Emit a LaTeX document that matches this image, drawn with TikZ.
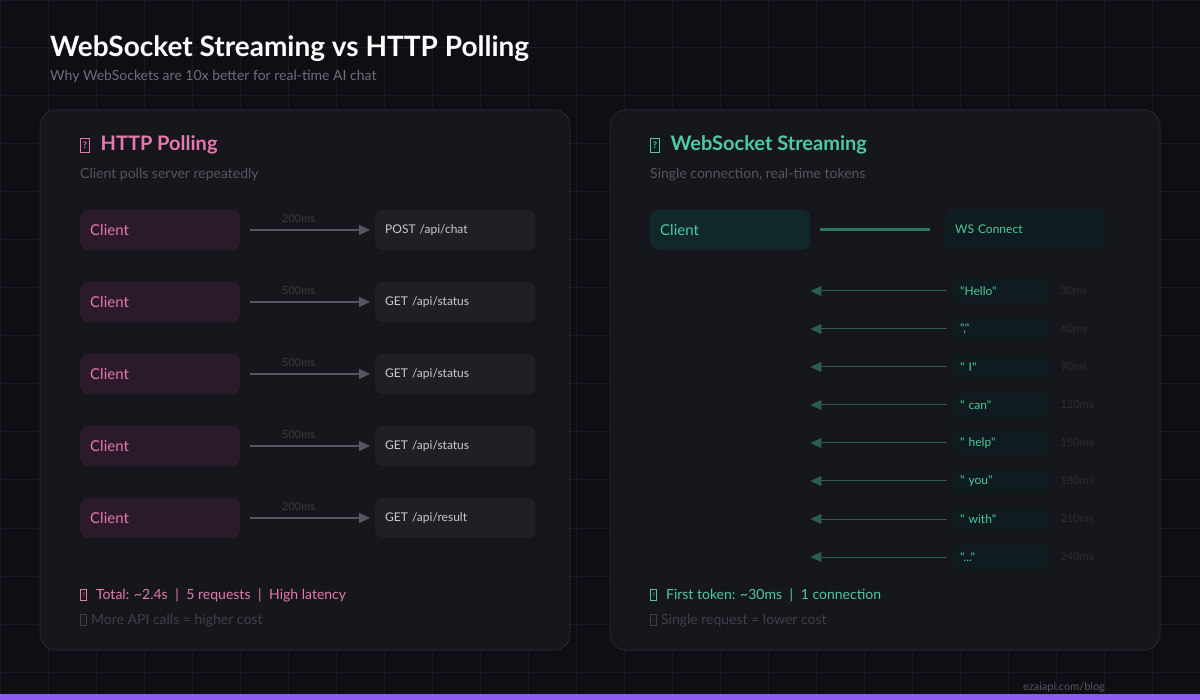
\documentclass[tikz,border=0pt]{standalone}
\usepackage{fontspec}
\setmainfont{Lato}
\newfontfamily\tokfont{Lato}
\usetikzlibrary{positioning}
\usetikzlibrary{arrows.meta}

\definecolor{bgdark}{HTML}{0E0E15}
\definecolor{gridline}{HTML}{1A1A24}
\definecolor{panelbg}{HTML}{16171C}
\definecolor{panelline}{HTML}{24252D}
\definecolor{subgray}{HTML}{6E6E78}
\definecolor{pinkc}{HTML}{E679AC}
\definecolor{pinkbox}{HTML}{2A1A2A}
\definecolor{servbox}{HTML}{1F1F26}
\definecolor{servtext}{HTML}{C9C9D1}
\definecolor{arrowgray}{HTML}{56565E}
\definecolor{msgray}{HTML}{393A42}
\definecolor{greenc}{HTML}{4FC9A0}
\definecolor{tealbox}{HTML}{12272A}
\definecolor{wsboxbg}{HTML}{101D20}
\definecolor{wsline}{HTML}{2E7964}
\definecolor{tokline}{HTML}{2A5D51}
\definecolor{tokbox}{HTML}{101B1F}
\definecolor{tokms}{HTML}{2C2D34}
\definecolor{panelsub}{HTML}{55565E}
\definecolor{dimtext}{HTML}{3F4048}
\definecolor{purplebar}{HTML}{8B5CF6}

% missing-glyph box: width, height, size of the ?
\newcommand\tofu[3]{\raisebox{0.5pt}{\setlength{\fboxsep}{0pt}\setlength{\fboxrule}{0.7pt}%
 \fbox{\parbox[c][#2][c]{#1}{\centering\fontsize{#3}{#3}\selectfont ?}}}}
\newcommand\sep{\hspace{4pt} | \hspace{4pt}}

\begin{document}
\begin{tikzpicture}[x=1pt,y=-1pt,
 panel/.style={draw=panelline,fill=panelbg,line width=1pt,rounded corners=16pt},
 client/.style={fill=pinkbox,text=pinkc,rounded corners=8pt,anchor=west,minimum height=40pt,
  text width=140pt,inner xsep=10pt,inner ysep=0pt,align=left,font=\fontsize{15}{18}\selectfont},
 server/.style={fill=servbox,text=servtext,rounded corners=8pt,anchor=west,minimum height=40pt,
  text width=140pt,inner xsep=10pt,inner ysep=0pt,align=left,font=\fontsize{12}{14}\selectfont},
 poll/.style={draw=arrowgray,line width=2pt,-{Triangle[length=11pt,width=10pt]},shorten <=10pt,shorten >=5pt},
 ms/.style={above=6pt,xshift=-9pt,text=msgray,inner sep=0pt,font=\fontsize{11}{13}\selectfont},
 wsclient/.style={client,fill=tealbox,text=greenc},
 wsbox/.style={server,fill=wsboxbg,text=greenc},
 wsconn/.style={draw=wsline,line width=3pt,shorten <=10pt,shorten >=15pt},
 token/.style={fill=tokbox,text=greenc,rounded corners=5pt,anchor=west,minimum height=25pt,
  text width=82pt,inner xsep=8pt,inner ysep=0pt,align=left,font=\tokfont\fontsize{12}{14}\selectfont},
 tokarrow/.style={draw=tokline,line width=1pt,-{Triangle[length=11pt,width=10pt]},shorten <=5pt},
 tokms/.style={text=tokms,inner sep=0pt,font=\fontsize{11}{13}\selectfont},
 label/.style={anchor=base west,inner sep=0pt}]
 \useasboundingbox (0,0) rectangle (1200,700);
 \fill[bgdark] (0,0) rectangle (1200,700);
 \draw[gridline,line width=1pt,step=48pt] (0,0) grid (1200,700);

 % heading
 \node[label,text=white,font=\fontsize{28}{32}\selectfont\bfseries] (title) at (50,57) {WebSocket Streaming vs HTTP Polling};
 \node[label,text=subgray,font=\fontsize{14}{17}\selectfont] (subtitle) at (50,81) {Why WebSockets are 10x better for real-time AI chat};

 % panels
 \draw[panel] (40,110) rectangle (570,650);
 \draw[panel] (610,110) rectangle (1160,650);

 % HTTP polling
 \node[label,text=pinkc,font=\fontsize{20}{24}\selectfont\bfseries] (httphead) at (80,151) {\tofu{8pt}{12.5pt}{9}\hspace{11pt}HTTP Polling};
 \node[label,text=panelsub,font=\fontsize{14}{17}\selectfont] (httpsub) at (80,179) {Client polls server repeatedly};

 \node[client] (hc1) at (80,230) {Client};
 \node[server] (hs1) at (375,230) {POST /api/chat};
 \draw[poll] (hc1) -- node[ms] {200ms} (hs1);
 \node[client] (hc2) at (80,302) {Client};
 \node[server] (hs2) at (375,302) {GET /api/status};
 \draw[poll] (hc2) -- node[ms] {500ms} (hs2);
 \node[client] (hc3) at (80,374) {Client};
 \node[server] (hs3) at (375,374) {GET /api/status};
 \draw[poll] (hc3) -- node[ms] {500ms} (hs3);
 \node[client] (hc4) at (80,446) {Client};
 \node[server] (hs4) at (375,446) {GET /api/status};
 \draw[poll] (hc4) -- node[ms] {500ms} (hs4);
 \node[client] (hc5) at (80,518) {Client};
 \node[server] (hs5) at (375,518) {GET /api/result};
 \draw[poll] (hc5) -- node[ms] {200ms} (hs5);

 \node[label,text=pinkc,font=\fontsize{14}{17}\selectfont] (httpfoot) at (80,599)
  {\tofu{5.5pt}{9.5pt}{6}\hspace{9pt}Total: \textasciitilde2.4s\sep 5 requests\sep High latency};
 \node[label,text=dimtext,font=\fontsize{14}{17}\selectfont] (httpcost) at (80,624)
  {\tofu{5.5pt}{9.5pt}{6}\hspace{4pt}More API calls = higher cost};

 % WebSocket streaming
 \node[label,text=greenc,font=\fontsize{20}{24}\selectfont\bfseries] (wshead) at (650,151) {\tofu{8pt}{12.5pt}{9}\hspace{11pt}WebSocket Streaming};
 \node[label,text=panelsub,font=\fontsize{14}{17}\selectfont] (wssub) at (650,179) {Single connection, real-time tokens};

 \node[wsclient] (wc) at (650,230) {Client};
 \node[wsbox] (ws) at (945,229) {WS Connect};
 \draw[wsconn] (wc) -- (wc -| ws.west);

 \node[token] (t1) at (952,291) {"Hello"};
 \node[token] (t2) at (952,329) {","};
 \node[token] (t3) at (952,367) {" I"};
 \node[token] (t4) at (952,405) {" can"};
 \node[token] (t5) at (952,443) {" help"};
 \node[token] (t6) at (952,481) {" you"};
 \node[token] (t7) at (952,519) {" with"};
 \node[token] (t8) at (952,557) {"..."};
 \node[tokms,right=10pt of t1] (m1) {30ms};
 \node[tokms,right=10pt of t2] (m2) {60ms};
 \node[tokms,right=10pt of t3] (m3) {90ms};
 \node[tokms,right=10pt of t4] (m4) {120ms};
 \node[tokms,right=10pt of t5] (m5) {150ms};
 \node[tokms,right=10pt of t6] (m6) {180ms};
 \node[tokms,right=10pt of t7] (m7) {210ms};
 \node[tokms,right=10pt of t8] (m8) {240ms};
 \draw[tokarrow] (t1) -- (t1 -| wc.east);
 \draw[tokarrow] (t2) -- (t2 -| wc.east);
 \draw[tokarrow] (t3) -- (t3 -| wc.east);
 \draw[tokarrow] (t4) -- (t4 -| wc.east);
 \draw[tokarrow] (t5) -- (t5 -| wc.east);
 \draw[tokarrow] (t6) -- (t6 -| wc.east);
 \draw[tokarrow] (t7) -- (t7 -| wc.east);
 \draw[tokarrow] (t8) -- (t8 -| wc.east);

 \node[label,text=greenc,font=\fontsize{14}{17}\selectfont] (wsfoot) at (650,599)
  {\tofu{5.5pt}{9.5pt}{6}\hspace{9pt}First token: \textasciitilde30ms\sep 1 connection};
 \node[label,text=dimtext,font=\fontsize{14}{17}\selectfont] (wscost) at (650,624)
  {\tofu{5.5pt}{9.5pt}{6}\hspace{4pt}Single request = lower cost};

 % footer
 \fill[purplebar] (0,694) rectangle (1200,700);
 \node[anchor=base,text=panelsub,inner sep=0pt,font=\fontsize{11}{13}\selectfont] (site) at (1064,690) {ezaiapi.com/blog};
\end{tikzpicture}
\end{document}
